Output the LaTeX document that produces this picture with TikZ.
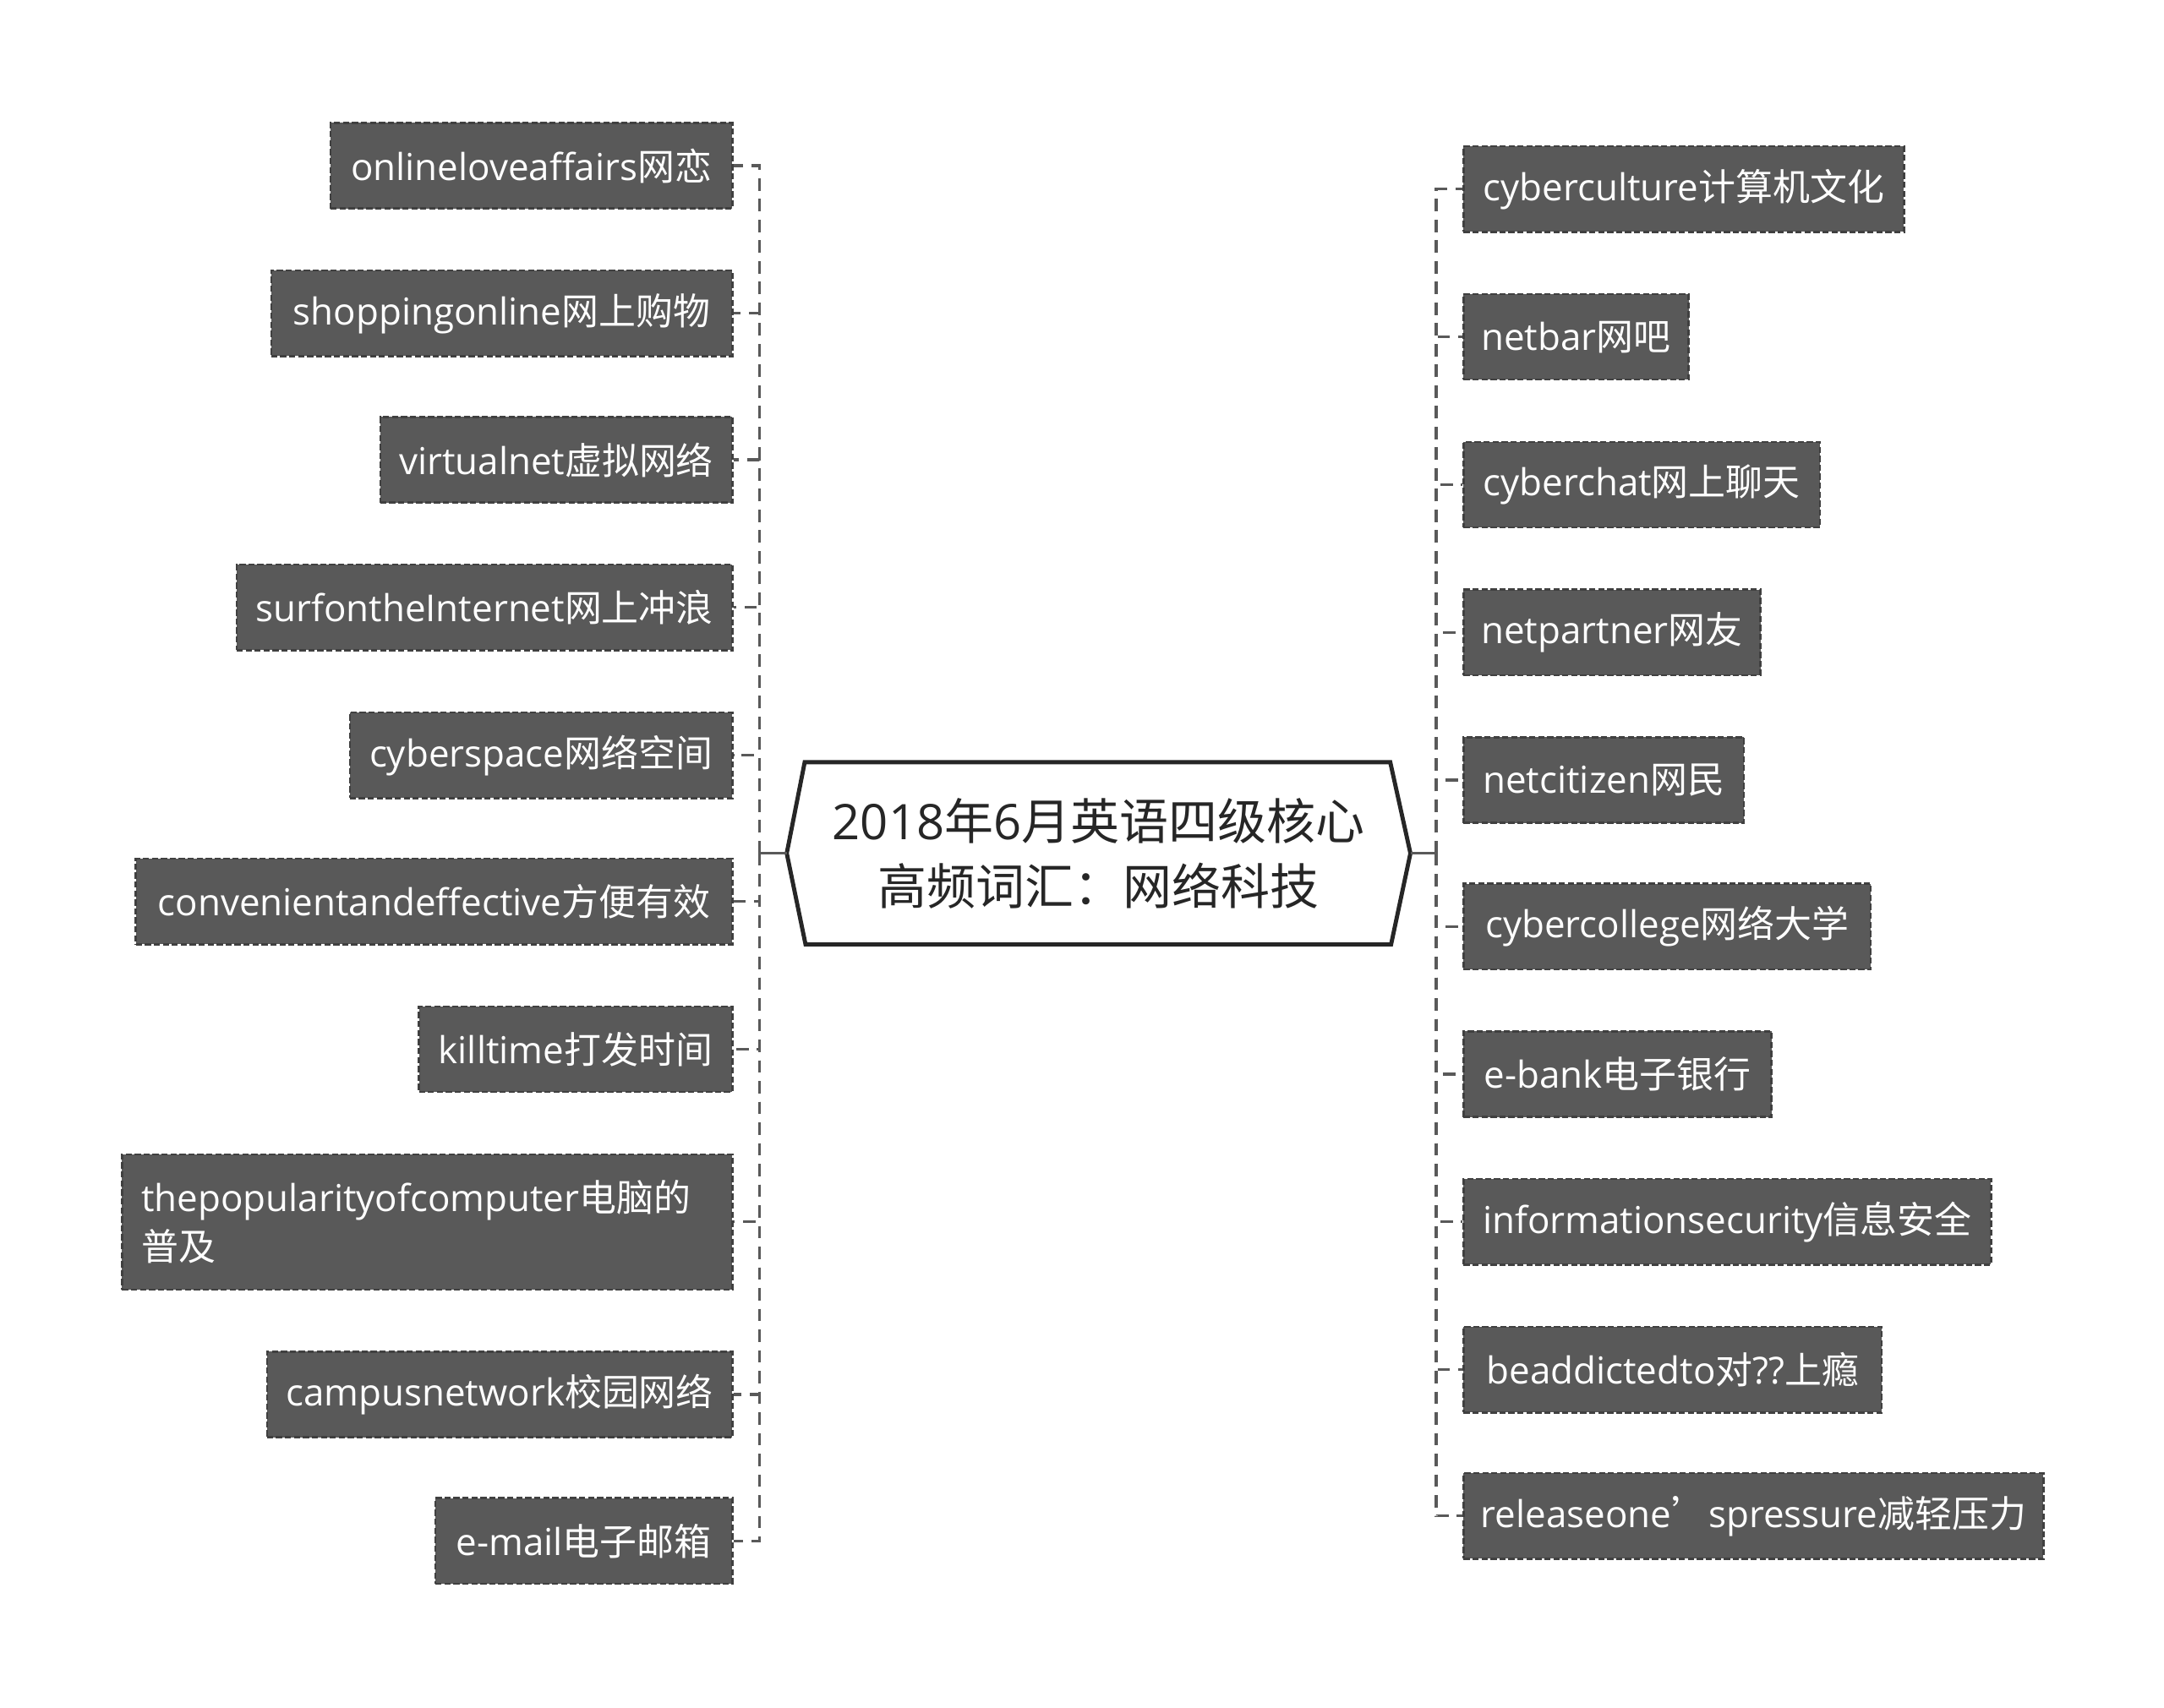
\documentclass[tikz,border=0pt]{standalone}
\usepackage{fontspec}
\setmainfont{Open Sans}
\newfontfamily\cjk{Noto Sans CJK SC}
\usetikzlibrary{backgrounds}
\definecolor{leafgray}{HTML}{595959}
\definecolor{edgegray}{HTML}{404040}
\definecolor{rootline}{HTML}{262626}

\begin{document}
\begin{tikzpicture}[x=0.02cm, y=-0.02cm,
    leaf/.style={draw=edgegray, dash pattern=on 0.09cm off 0.04cm, line width=0.03cm,
      fill=leafgray, text=white, minimum height=1.24cm, inner sep=0pt,
      font=\fontsize{15.3}{20.4}\selectfont},
    lleaf/.style={leaf, anchor=east},
    rleaf/.style={leaf, anchor=west},
    link/.style={draw=leafgray, line width=0.04cm, dash pattern=on 0.18cm off 0.12cm}]
        \useasboundingbox (0,0) rectangle (1567,1236.5);

        % Root
        \node[font=\fontsize{20.2}{26.7}\selectfont, text=rootline, align=center,
          minimum width=9.02cm, minimum height=2.64cm] (root) at (795.5,618)
          {2018{\cjk 年}6{\cjk 月英语四级核心}\\{\cjk 高频词汇：网络科技}};
        \begin{scope}[on background layer]
          \draw[rootline, line width=0.06cm, fill=white] (root.west) -- ++(13,-66) -- ++(424,0)
            -- (root.east) -- ++(-14,66) -- ++(-424,0) -- cycle;
        \end{scope}

        % Left leaves
        \node[lleaf, minimum width=5.82cm] (l1) at (531,120) {onlineloveaffairs{\cjk 网恋}};
        \node[lleaf, minimum width=6.68cm] (l2) at (531,227) {shoppingonline{\cjk 网上购物}};
        \node[lleaf, minimum width=5.10cm] (l3) at (531,333) {virtualnet{\cjk 虚拟网络}};
        \node[lleaf, minimum width=7.18cm] (l4) at (531,440) {surfontheInternet{\cjk 网上冲浪}};
        \node[lleaf, minimum width=5.54cm] (l5) at (531,547) {cyberspace{\cjk 网络空间}};
        \node[lleaf, minimum width=8.64cm] (l6) at (531,653) {convenientandeffective{\cjk 方便有效}};
        \node[lleaf, minimum width=4.54cm] (l7) at (531,760) {killtime{\cjk 打发时间}};
        \node[lleaf, minimum height=1.96cm, inner xsep=0.28cm, text width=8.28cm, align=left] (l8) at (531,885)
          {thepopularityofcomputer{\cjk 电脑的}\\{\cjk 普及}};
        \node[lleaf, minimum width=6.74cm] (l9) at (531,1010) {campusnetwork{\cjk 校园网络}};
        \node[lleaf, minimum width=4.30cm] (l10) at (531,1116) {e-mail{\cjk 电子邮箱}};

        % Right leaves
        \node[rleaf, minimum width=6.38cm] (r1) at (1059,137) {cyberculture{\cjk 计算机文化}};
        \node[rleaf, minimum width=3.26cm] (r2) at (1059,244) {netbar{\cjk 网吧}};
        \node[rleaf, minimum width=5.16cm] (r3) at (1059,351) {cyberchat{\cjk 网上聊天}};
        \node[rleaf, minimum width=4.30cm] (r4) at (1059,458) {netpartner{\cjk 网友}};
        \node[rleaf, minimum width=4.06cm] (r5) at (1059,565) {netcitizen{\cjk 网民}};
        \node[rleaf, minimum width=5.90cm] (r6) at (1059,671) {cybercollege{\cjk 网络大学}};
        \node[rleaf, minimum width=4.46cm] (r7) at (1059,778) {e-bank{\cjk 电子银行}};
        \node[rleaf, minimum width=7.64cm] (r8) at (1059,885) {informationsecurity{\cjk 信息安全}};
        \node[rleaf, minimum width=6.06cm] (r9) at (1059,992) {beaddictedto{\cjk 对}??{\cjk 上瘾}};
        \node[rleaf, minimum width=8.40cm] (r10) at (1059,1098) {releaseone{\cjk ’}spressure{\cjk 减轻压力}};

        % Connectors
        \coordinate (lhub) at (550,618);
        \coordinate (rhub) at (1040,618);
        \draw[leafgray, line width=0.04cm] (root.west) -- (lhub);
        \draw[leafgray, line width=0.04cm] (root.east) -- (rhub);
        \foreach \i in {1,...,10} {
          \draw[link] (lhub) |- (l\i.east);
          \draw[link] (rhub) |- (r\i.west);
        }
    \end{tikzpicture}
\end{document}
